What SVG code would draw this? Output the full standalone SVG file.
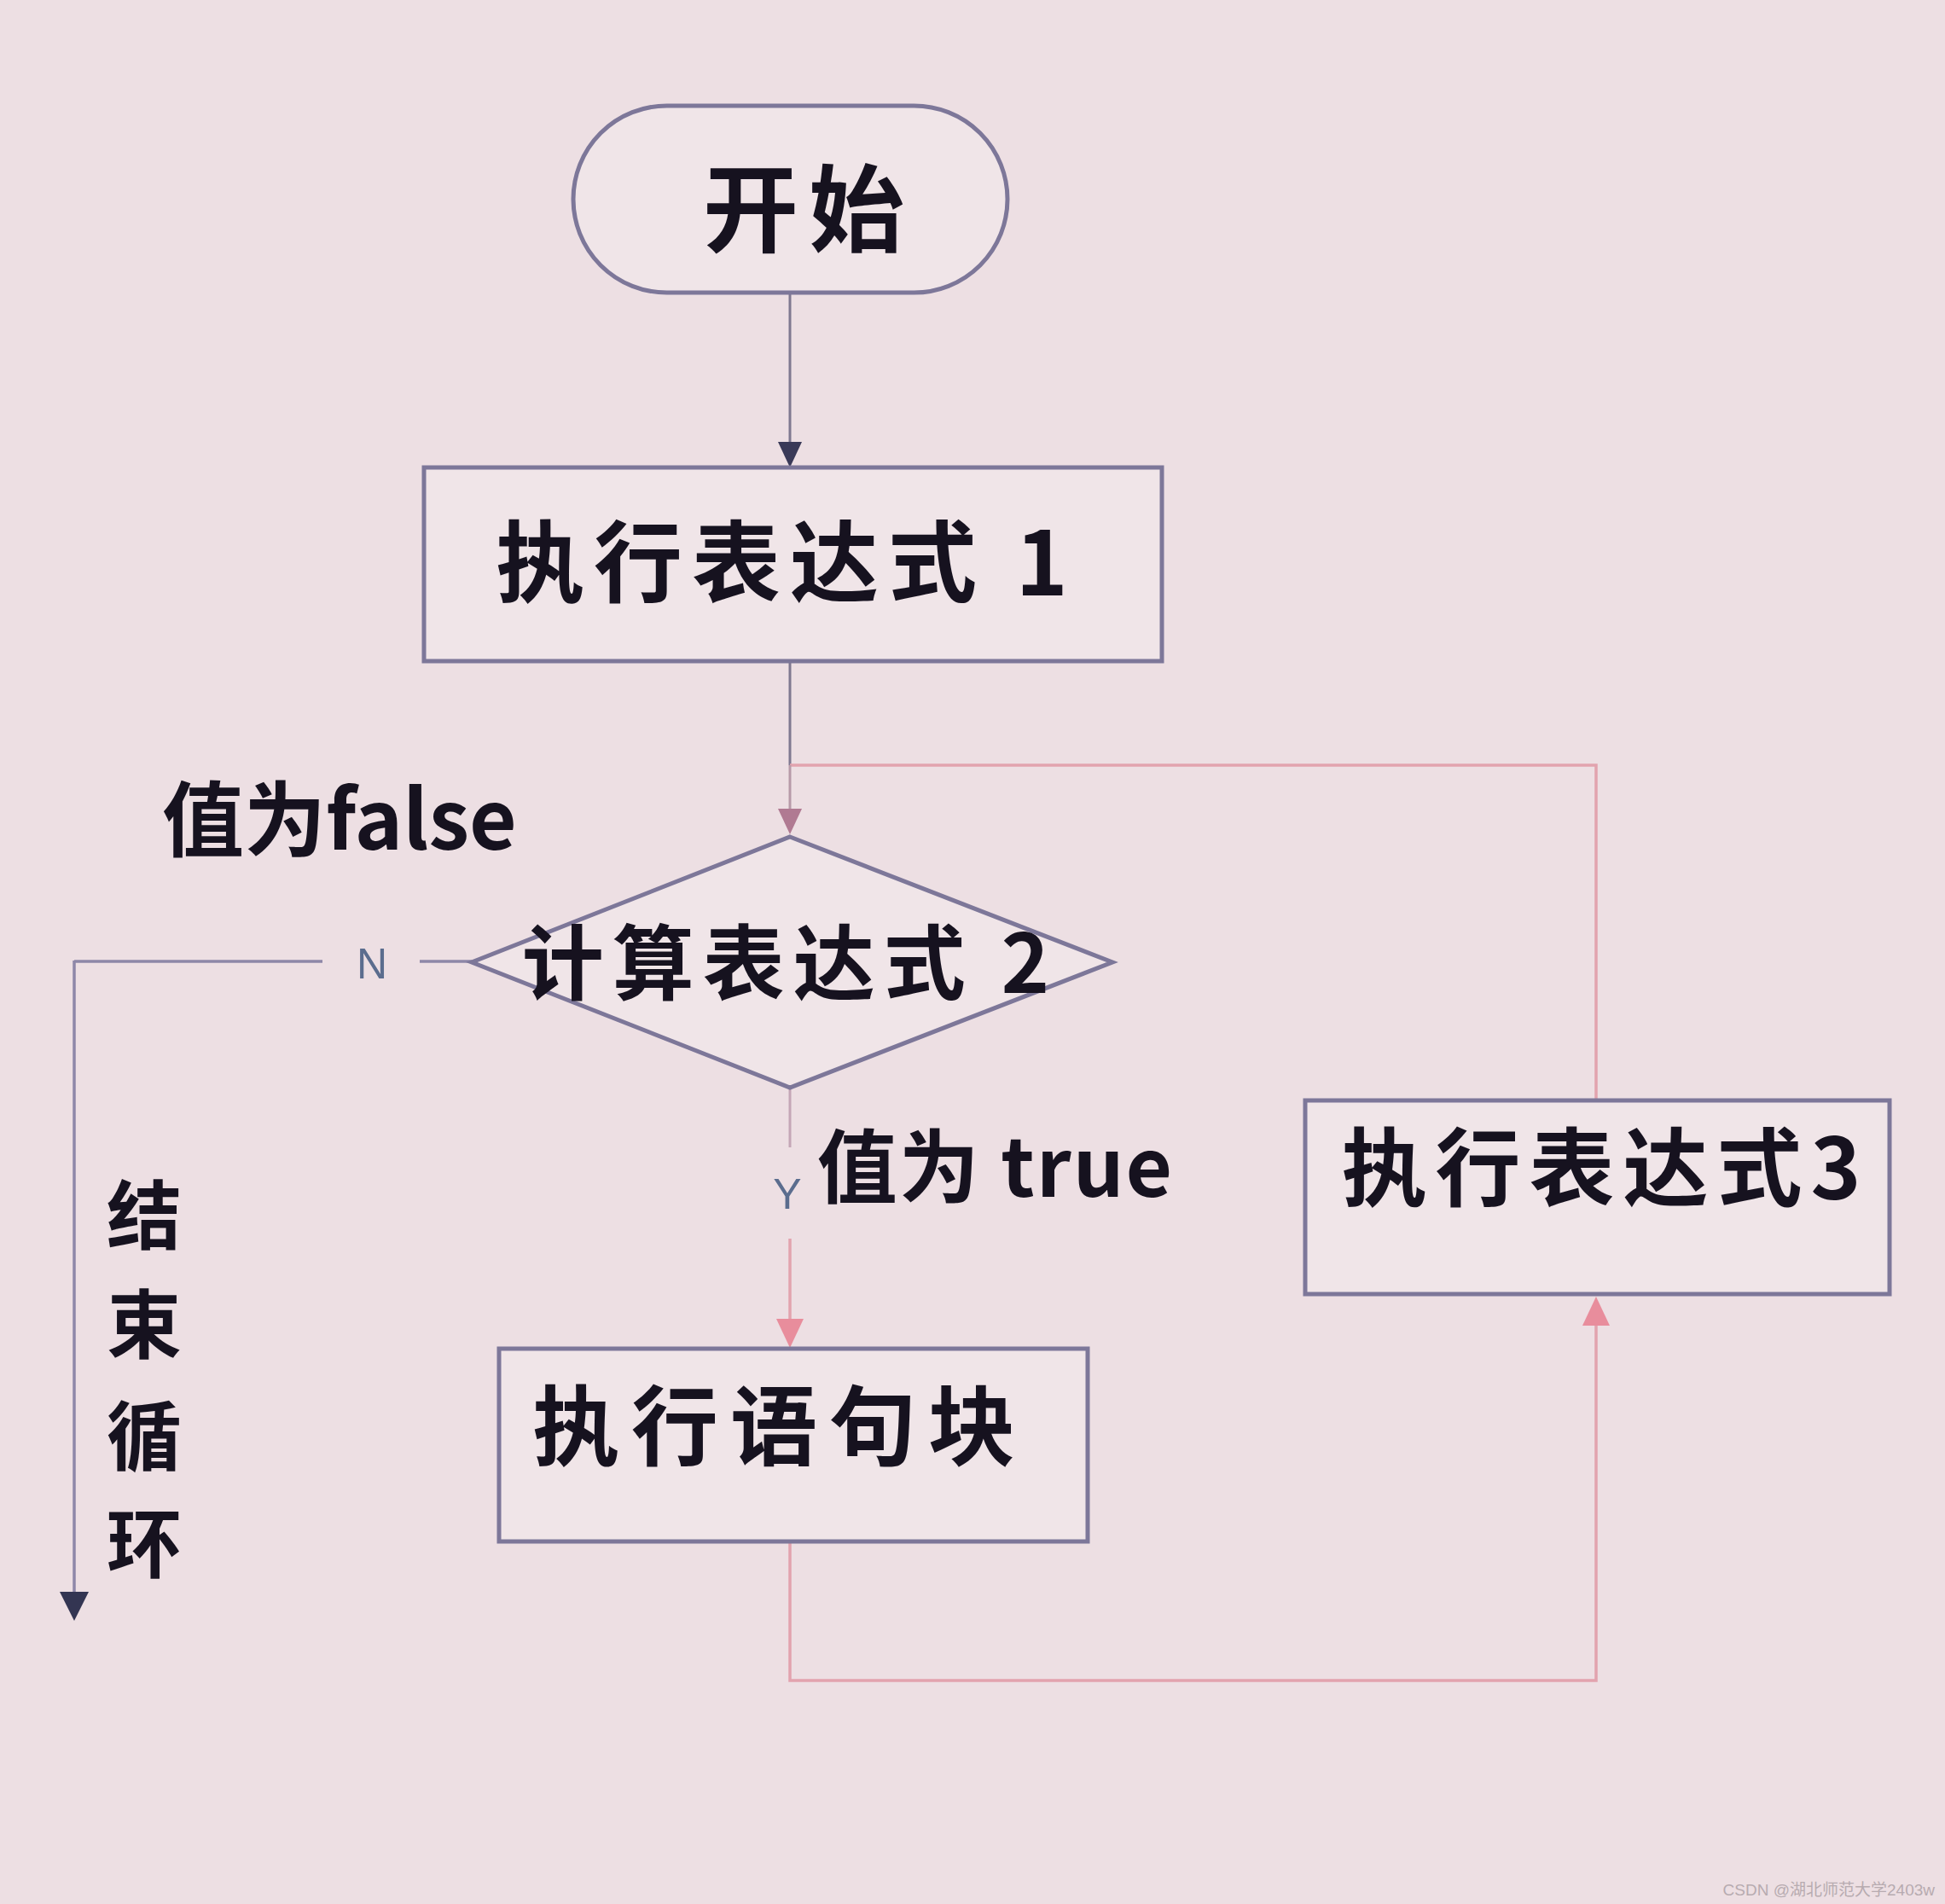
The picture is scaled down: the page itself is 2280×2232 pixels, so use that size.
<svg xmlns="http://www.w3.org/2000/svg" width="2280" height="2232" viewBox="0 0 2280 2232">
<style>
.lbl{font-family:"Noto Sans CJK SC","Noto Sans",sans-serif;font-weight:700;fill:#16121f;text-anchor:middle;dominant-baseline:central}
.node{fill:#f0e5e8;stroke:#7d7799;stroke-width:5}
.yn{font-family:"Liberation Sans","DejaVu Sans",sans-serif;fill:#5b6d8e;font-size:50px;text-anchor:middle;dominant-baseline:central}
.gray{fill:none;stroke:#7f7890;stroke-width:3}
.pink{fill:none;stroke:#e2a3ae;stroke-width:3.5}
.mauve{fill:none;stroke:#8e87a8;stroke-width:3.5}
</style>
<rect width="2280" height="2232" fill="#eddfe3"/>

<g id="connectors">
  <line class="gray" x1="926" y1="345" x2="926" y2="522"/>
  <path d="M912,518 L940,518 L926,548 Z" fill="#3a3a58"/>
  <line class="gray" x1="926" y1="777" x2="926" y2="897"/>
  <path class="pink" d="M926,897 L1871,897 L1871,1290"/>
  <line stroke="#b79aa8" stroke-width="3" x1="926" y1="897" x2="926" y2="950"/>
  <path d="M912,948 L940,948 L926,978 Z" fill="#b07a92"/>
  <line class="mauve" x1="87" y1="1127" x2="378" y2="1127"/>
  <line class="mauve" x1="492" y1="1127" x2="553" y2="1127"/>
  <line class="mauve" x1="87" y1="1126" x2="87" y2="1870"/>
  <path d="M70,1866 L104,1866 L87,1900 Z" fill="#333552"/>
  <line stroke="#c4a6b6" stroke-width="3" x1="926" y1="1275" x2="926" y2="1345"/>
  <line class="pink" x1="926" y1="1452" x2="926" y2="1552"/>
  <path d="M910,1546 L942,1546 L926,1580 Z" fill="#e88d9c"/>
  <path class="pink" d="M926,1809 L926,1970 L1871,1970 L1871,1548"/>
  <path d="M1855,1554 L1887,1554 L1871,1520 Z" fill="#e88d9c"/>
</g>

<g id="start">
  <rect class="node" x="672" y="124" width="509" height="219" rx="109.5" ry="109.5"/>
  <text class="lbl" x="948" y="238" font-size="112" letter-spacing="12">开始</text>
</g>

<g id="expr1">
  <rect class="node" x="497" y="548" width="865" height="227" stroke="#6f6a8c"/>
  <text class="lbl" x="922" y="652" font-size="104" letter-spacing="11">执行表达式 1</text>
</g>

<g id="cond">
  <polygon class="node" points="926,981 1304,1128 926,1275 553,1128" stroke="#8f8ab0" stroke-width="4"/>
  <text class="lbl" x="926" y="1122" font-size="96" letter-spacing="10">计算表达式 2</text>
</g>

<g id="labels">
  <text class="lbl" x="398" y="954" font-size="96">值为false</text>
  <text class="lbl" x="1167" y="1362" font-size="94" letter-spacing="2">值为 true</text>
  <text class="yn" x="436" y="1130">N</text>
  <text class="yn" x="923" y="1400">Y</text>
  <g id="endloop" class="lbl" font-size="88">
    <text x="169" y="1418">结</text>
    <text x="169" y="1546">束</text>
    <text x="169" y="1677">循</text>
    <text x="169" y="1803">环</text>
  </g>
</g>

<g id="body">
  <rect class="node" x="585" y="1581" width="690" height="226"/>
  <text class="lbl" x="914" y="1665" font-size="102" letter-spacing="14">执行语句块</text>
</g>

<g id="expr3">
  <rect class="node" x="1530" y="1290" width="685" height="227"/>
  <text class="lbl" x="1882" y="1362" font-size="100" letter-spacing="10">执行表达式3</text>
</g>

<text x="2268" y="2222" font-family="Liberation Sans,'Noto Sans CJK SC',sans-serif" font-size="19" fill="#b7abb0" text-anchor="end">CSDN @湖北师范大学2403w</text>
</svg>
